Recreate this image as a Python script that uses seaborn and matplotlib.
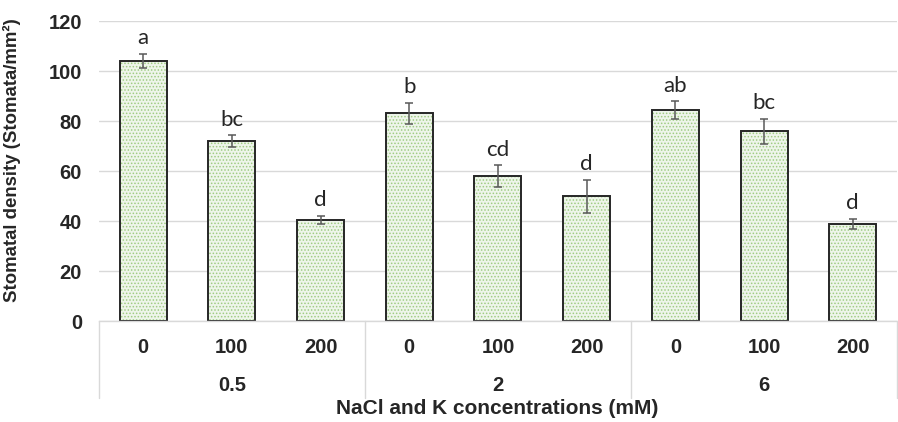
import numpy as np
import pandas as pd
import matplotlib
matplotlib.use('Agg')
import matplotlib.pyplot as plt
import matplotlib.transforms as mtransforms
import seaborn as sns

# ------------------------------------------------
# DATA
# ------------------------------------------------
k_levels = ['0.5', '0.5', '0.5', '2', '2', '2', '6', '6', '6']
nacl_levels = ['0', '100', '200', '0', '100', '200', '0', '100', '200']
density = [104.2, 72.0, 40.4, 83.2, 58.0, 50.0, 84.5, 76.0, 39.0]
err = [2.8, 2.4, 1.7, 4.2, 4.3, 6.6, 3.5, 5.0, 2.0]
letters = ['a', 'bc', 'd', 'b', 'cd', 'd', 'ab', 'bc', 'd']
k_groups = ['0.5', '2', '6']

df = pd.DataFrame({'K': k_levels, 'NaCl': nacl_levels, 'density': density})
df['cat'] = df['K'] + '|' + df['NaCl']

# ------------------------------------------------
# PLOT
# ------------------------------------------------
sns.set_style('white')
plt.rcParams['font.family'] = ['Liberation Sans', 'DejaVu Sans']
plt.rcParams['hatch.linewidth'] = 0.7

fig = plt.figure(figsize=(8.98, 4.22), dpi=100)
ax = fig.add_axes([0.110, 0.239, 0.889, 0.711])

# dotted fill layer
sns.barplot(data=df, x='cat', y='density', color='#eef7e8', hatch='.....',
            edgecolor='#9fcc82', linewidth=0, width=0.53, ax=ax, errorbar=None)
# outline layer
sns.barplot(data=df, x='cat', y='density', color='#262626', fill=False,
            linewidth=1.4, width=0.53, ax=ax, errorbar=None)

xs = np.arange(len(density))
ax.errorbar(xs, density, yerr=err, fmt='none', ecolor='#595959',
            elinewidth=1.1, capsize=3.2, capthick=1.1, zorder=5)

for x, y, e, lab in zip(xs, density, err, letters):
    ax.annotate(lab, (x, y + e), xytext=(0, 4), textcoords='offset points',
                ha='center', va='bottom', fontsize=16,
                family=['Lato', 'DejaVu Sans'])

ax.set_ylim(0, 120)
ax.set_yticks(range(0, 121, 20))
ax.set_xlim(-0.5, len(density) - 0.5)
ax.yaxis.grid(True, color='#d9d9d9', linewidth=1)
ax.set_axisbelow(True)
for s in ['top', 'right', 'left']:
    ax.spines[s].set_visible(False)
ax.spines['bottom'].set_color('#d9d9d9')
ax.spines['bottom'].set_linewidth(1)
ax.tick_params(length=0)
ax.tick_params(axis='y', pad=12)
ax.tick_params(axis='x', pad=12)

ax.set_xticks(xs)
ax.set_xticklabels(nacl_levels, fontsize=14.5, fontweight='bold')
for t in ax.get_yticklabels():
    t.set_fontsize(14.5)
    t.set_fontweight('bold')

ax.set_xlabel('')
ax.set_ylabel('Stomatal density (Stomata/mm²)', fontsize=13.4,
              fontweight='bold')
ax.yaxis.set_label_coords(-0.098, 0.535)

# two-level category table below the axis
trans = mtransforms.blended_transform_factory(ax.transData, ax.transAxes)
for b in [-0.5, 2.5, 5.5, 8.5]:
    ax.plot([b, b], [0, -0.255], transform=trans, color='#d9d9d9',
            linewidth=1, clip_on=False)
for i, g in enumerate(k_groups):
    ax.text(3 * i + 1, -0.215, g, transform=trans, ha='center', va='center',
            fontsize=14.5, fontweight='bold')

fig.text(0.554, 0.033, 'NaCl and K concentrations (mM)', ha='center',
         va='center', fontsize=15, fontweight='bold')

fig.savefig('out.png', dpi=100)
